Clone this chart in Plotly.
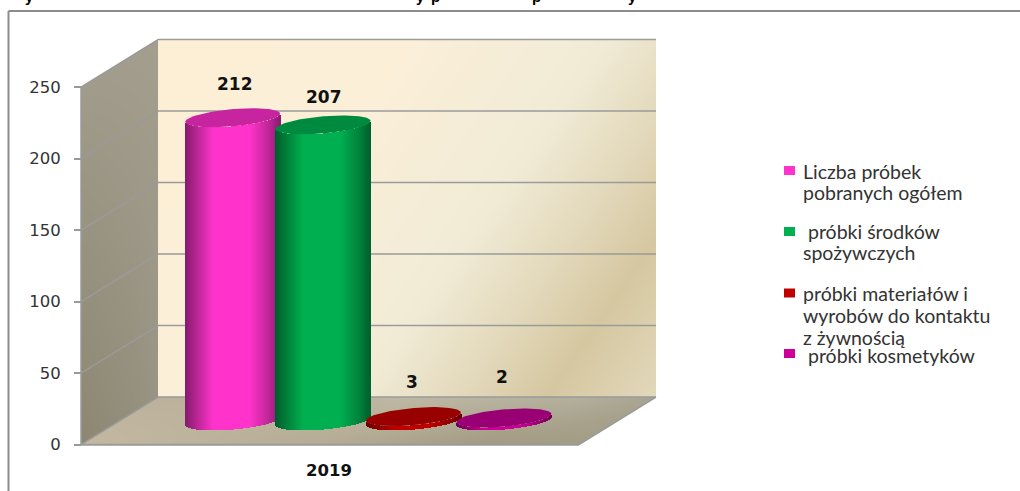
import base64
import struct
import zlib

import numpy as np
import plotly.graph_objects as go

# ---- data ----
years = ["2019"]
series_names = [
    "Liczba próbek pobranych ogółem",
    "próbki środków spożywczych",
    "próbki materiałów i wyrobów do kontaktu z żywnością",
    "próbki kosmetyków",
]
series_values = [212, 207, 3, 2]
tick_values = [0, 50, 100, 150, 200, 250]
legend_lines = [
    ["Liczba próbek", "pobranych ogółem"],
    ["\u00a0próbki środków", "spożywczych"],
    ["próbki materiałów i", "wyrobów do kontaktu", "z żywnością"],
    ["\u00a0próbki kosmetyków"],
]
legend_line_y = [[171, 192.5], [232, 253], [293, 315, 337], [355]]
legend_key_y = [170.5, 231.5, 293, 353.5]

# ---- styling ----
body_colors = ["#FF33CC", "#00B050", "#C00000", "#CC0099"]
cap_colors = ["#C7259F", "#008A3F", "#990000", "#990073"]
LINE = "#9A9A9A"
TEXT = "#333333"

# ---- oblique projection of the plot box, in page pixels ----
W, H = 1020, 491
ZERO_Y = 444.7
PX_PER_UNIT = 1.43
FRONT_X, BACK_X = 81.0, 158.0
BOX_W = 498.0
DEPTH_PX = 47.6
SLOT0, SLOT_STEP = 232.7, 90.4
RADIUS, SHEAR, ELLIPSE_H = 43.0, 20.0, 9.5


def val(py):
    """Value-axis coordinate of a page row."""
    return (ZERO_Y - py) / PX_PER_UNIT


def hexrgb(c):
    return np.array([int(c[i:i + 2], 16) for i in (1, 3, 5)], dtype=float)


def ramp(t, stops):
    pos = [s[0] for s in stops]
    cols = np.array([hexrgb(s[1]) for s in stops])
    return np.stack([np.interp(t, pos, cols[:, k]) for k in range(3)], axis=-1)


def png_uri(rgba):
    h, w, _ = rgba.shape
    raw = b"".join(b"\x00" + rgba[r].tobytes() for r in range(h))

    def chunk(tag, data):
        crc = zlib.crc32(tag + data) & 0xFFFFFFFF
        return struct.pack(">I", len(data)) + tag + data + struct.pack(">I", crc)

    png = (b"\x89PNG\r\n\x1a\n"
           + chunk(b"IHDR", struct.pack(">IIBBBBB", w, h, 8, 6, 0, 0, 0))
           + chunk(b"IDAT", zlib.compress(raw, 9))
           + chunk(b"IEND", b""))
    return "data:image/png;base64," + base64.b64encode(png).decode()


def wall_image():
    """Paints the side wall, back wall and floor with their gradients."""
    x0, x1, y0, y1 = 80, 658, 38, 447
    ss = 3
    xs = (np.arange((x1 - x0) * ss) + 0.5) / ss + x0
    ys = (np.arange((y1 - y0) * ss) + 0.5) / ss + y0
    X, Y = np.meshgrid(xs, ys)
    back_y0, back_y1 = 40.0, ZERO_Y - DEPTH_PX
    col = np.zeros(X.shape + (3,))
    alpha = np.zeros(X.shape)

    # back wall: diagonal parchment gradient
    m = (X >= BACK_X) & (X <= BACK_X + BOX_W) & (Y >= back_y0) & (Y <= back_y1)
    t = (X - BACK_X) / BOX_W + 0.5 * (Y - back_y0) / (back_y1 - back_y0)
    back = ramp(t, [(0, "#FDEFD5"), (0.5, "#FBEFD8"), (0.9, "#F1EBD6"),
                    (1.1, "#E3D9BC"), (1.28, "#D5C7A0"), (1.5, "#E2D8BB")])
    col[m], alpha[m] = back[m], 1

    # side wall
    slope = DEPTH_PX / (BACK_X - FRONT_X)
    u = (X - FRONT_X) / (BACK_X - FRONT_X)
    top = 87 - (X - FRONT_X) * slope
    bot = ZERO_Y - (X - FRONT_X) * slope
    m = (u >= 0) & (u <= 1) & (Y >= top) & (Y <= bot)
    v = (Y - top) / (bot - top)
    tl, tr, bl, br = map(hexrgb, ("#A09B8A", "#A39E8D", "#8C8672", "#999483"))
    side = ((1 - u) * (1 - v))[..., None] * tl + (u * (1 - v))[..., None] * tr \
        + ((1 - u) * v)[..., None] * bl + (u * v)[..., None] * br
    col[m], alpha[m] = side[m], 1

    # floor
    dv = (ZERO_Y - Y) / DEPTH_PX
    xl = FRONT_X + dv * (BACK_X - FRONT_X)
    uf = (X - xl) / BOX_W
    m = (dv >= 0) & (dv <= 1) & (uf >= 0) & (uf <= 1)
    front = ramp(uf, [(0, "#C4B8A1"), (0.5, "#B5AB94"), (0.8, "#A39A82"), (1, "#A49D86")])
    rear = ramp(uf, [(0, "#BBB19B"), (0.5, "#BDB7A3"), (0.85, "#B3B09C"), (1, "#A9A48F")])
    floor = (1 - dv)[..., None] * front + dv[..., None] * rear
    col[m], alpha[m] = floor[m], 1

    # downsample to page pixels
    premult = np.dstack([col * alpha[..., None], alpha * 255])
    hh, ww = premult.shape[0] // ss, premult.shape[1] // ss
    small = premult.reshape(hh, ss, ww, ss, 4).mean(axis=(1, 3))
    a = small[..., 3:] / 255
    rgb = np.where(a > 0, small[..., :3] / np.maximum(a, 1e-6), 0)
    rgba = np.dstack([rgb, small[..., 3]]).round().clip(0, 255).astype(np.uint8)
    return png_uri(rgba), x0, y0, x1 - x0, y1 - y0


fig = go.Figure()

# ---- cylinders: thin bars for the shaded body, a filled ellipse for the lid ----
amp = float(np.hypot(RADIUS, SHEAR))
phi = float(np.arctan2(SHEAR, RADIUS))
centre_lift = DEPTH_PX / 2 / PX_PER_UNIT
dxs = np.arange(-amp + 0.5, amp, 1.0)
lower_arc = ELLIPSE_H * np.sin(phi - np.arccos(dxs / amp)) / PX_PER_UNIT
pos = (dxs + amp) / (2 * amp)
shade = np.interp(pos, [0, 0.12, 0.3, 0.68, 0.88, 1], [0.52, 0.72, 1, 1, 0.75, 0.55])
ts = np.linspace(0, 2 * np.pi, 121)

for i, (name, value) in enumerate(zip(series_names, series_values)):
    cx = SLOT0 + i * SLOT_STEP
    rgb = hexrgb(body_colors[i])
    strip_cols = [f"rgb({r:.0f},{g:.0f},{b:.0f})" for r, g, b in rgb * shade[:, None]]
    fig.add_bar(
        x=cx + dxs, y=[value] * len(dxs), base=centre_lift + lower_arc,
        width=1.15, marker=dict(color=strip_cols, line=dict(width=0)),
        name=name, showlegend=False, hoverinfo="skip",
    )

for i, value in enumerate(series_values):
    cx = SLOT0 + i * SLOT_STEP
    lid_x = cx + RADIUS * np.cos(ts) + SHEAR * np.sin(ts)
    lid_y = value + centre_lift + ELLIPSE_H * np.sin(ts) / PX_PER_UNIT
    fig.add_scatter(
        x=lid_x, y=lid_y, mode="lines", fill="toself", fillcolor=cap_colors[i],
        line=dict(width=0, color=cap_colors[i]), showlegend=False, hoverinfo="skip",
    )

# ---- box edges and grid, under the cylinders ----
shapes = []


def seg(x0, y0, x1, y1, color=LINE, width=1.5):
    shapes.append(dict(type="line", xref="x", yref="y", x0=x0, y0=y0, x1=x1, y1=y1,
                       layer="below", line=dict(color=color, width=width)))


lift = DEPTH_PX / PX_PER_UNIT
for tv in tick_values:
    seg(FRONT_X, tv, BACK_X, tv + lift)
    seg(BACK_X, tv + lift, BACK_X + BOX_W, tv + lift)
seg(FRONT_X, 0, FRONT_X, 250)
seg(FRONT_X, 0, FRONT_X + BOX_W, 0, width=2)
seg(FRONT_X + BOX_W, 0, BACK_X + BOX_W, lift)

# chart frame: open on the right and at the bottom
shapes.append(dict(type="line", xref="paper", yref="paper", x0=8.5 / W, x1=1, y0=1 - 11 / H, y1=1 - 11 / H,
                   line=dict(color="#8C8C8C", width=2)))
shapes.append(dict(type="line", xref="paper", yref="paper", x0=8.5 / W, x1=8.5 / W, y0=0, y1=1 - 11 / H,
                   line=dict(color="#8C8C8C", width=2)))

# legend keys
for c, ky in zip(body_colors, legend_key_y):
    shapes.append(dict(type="rect", xref="paper", yref="paper", x0=784 / W, x1=795 / W,
                       y0=1 - (ky + 4.5) / H, y1=1 - (ky - 4.5) / H,
                       fillcolor=c, line=dict(width=0)))

annotations = []


def note(text, px, py, size, bold=False, anchor="center", family="DejaVu Sans", color=TEXT):
    annotations.append(dict(
        text=f"<b>{text}</b>" if bold else text,
        xref="paper", yref="paper", x=px / W, y=1 - py / H,
        xanchor=anchor, yanchor="middle", showarrow=False,
        font=dict(family=family, size=size, color=color),
    ))


# value labels above the cylinders
label_dx = [1.8, 1, -1.5, -2]
label_rise = [34, 28, 35, 41]
for i, value in enumerate(series_values):
    top_py = ZERO_Y - (value + centre_lift) * PX_PER_UNIT
    note(str(value), SLOT0 + i * SLOT_STEP + label_dx[i], top_py - label_rise[i], 17, bold=True, color="#111111")

note(years[0], 328.5, 470, 16.5, bold=True, color="#111111")

for lines, ys_ in zip(legend_lines, legend_line_y):
    for line, ly in zip(lines, ys_):
        note(line, 801, ly, 19.5, anchor="left", family="Lato")

# clipped descenders of the heading line above the frame
for txt, px in [("y", 29), ("y", 420), ("p", 435), ("p", 536), ("y", 632)]:
    note(txt, px, -3.5, 15, bold=True, family="Liberation Sans", color="#000000")

img_src, ix, iy, iw, ih = wall_image()

fig.update_layout(
    width=W, height=H, margin=dict(l=0, r=0, t=0, b=0),
    paper_bgcolor="white", plot_bgcolor="rgba(0,0,0,0)",
    barmode="overlay", bargap=0, showlegend=False,
    shapes=shapes, annotations=annotations,
    images=[dict(source=img_src, xref="paper", yref="paper", x=ix / W, y=1 - iy / H,
                 sizex=iw / W, sizey=ih / H, sizing="stretch",
                 xanchor="left", yanchor="top", layer="below")],
    xaxis=dict(range=[0, W], visible=False, fixedrange=True),
    yaxis=dict(
        range=[val(H), val(0)], anchor="free", position=FRONT_X / W,
        tickmode="array", tickvals=tick_values, ticks="outside", ticklen=7, tickwidth=1.5,
        tickcolor=LINE, ticklabelstandoff=10, showgrid=False, zeroline=False, showline=False,
        tickfont=dict(family="DejaVu Sans", size=16.5, color=TEXT), fixedrange=True,
    ),
)

fig.write_html("out.html", config={"displayModeBar": False})
